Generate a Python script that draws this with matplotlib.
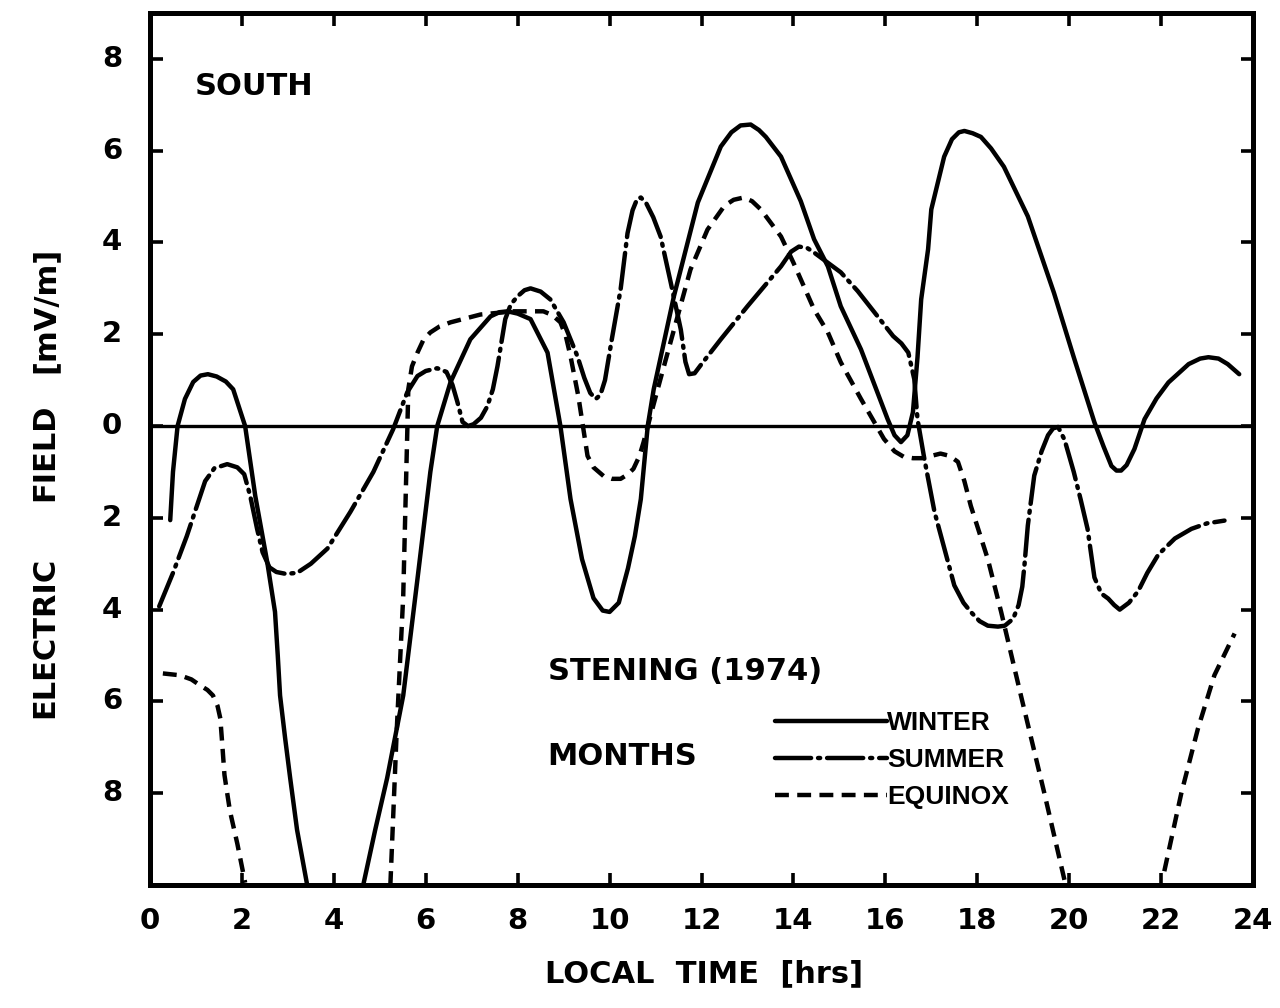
import matplotlib
matplotlib.use("Agg")
import matplotlib.pyplot as plt

# Local time (hrs) and electric field (mV/m).
# Segments are split where a curve leaves the bottom of the frame.
winter_x1 = [0.44, 0.50, 0.60, 0.76, 0.94, 1.10, 1.26, 1.45, 1.65, 1.81, 2.07, 2.29, 2.55, 2.72,
             2.78, 2.83, 2.94, 3.05, 3.20, 3.42]
winter_y1 = [-2.05, -1.0, 0.0, 0.59, 0.96, 1.10, 1.13, 1.08, 0.97, 0.80, 0.0, -1.52, -2.96, -4.05,
             -5.0, -5.87, -6.8, -7.67, -8.8, -10.0]
winter_x2 = [4.64, 4.90, 5.16, 5.51, 5.82, 6.10, 6.25, 6.54, 6.97, 7.41, 7.60, 7.78, 8.00, 8.28,
             8.65, 8.93, 9.15, 9.40, 9.65, 9.85, 10.0, 10.20, 10.40, 10.55, 10.68, 10.83, 10.96,
             11.40, 11.92, 12.42, 12.65, 12.85, 13.07, 13.25, 13.40, 13.73, 14.16, 14.45, 14.75,
             15.03, 15.47, 16.05, 16.20, 16.34, 16.48, 16.60, 16.70, 16.78, 16.93, 17.00, 17.28,
             17.45, 17.60, 17.72, 17.90, 18.08, 18.30, 18.58, 19.10, 19.67, 20.10, 20.55, 20.75,
             20.92, 21.03, 21.13, 21.25, 21.42, 21.64, 21.90, 22.16, 22.60, 22.85, 23.03, 23.25,
             23.45, 23.70]
winter_y2 = [-10.0, -8.8, -7.67, -5.87, -3.33, -1.0, 0.0, 0.96, 1.89, 2.39, 2.48, 2.50, 2.45, 2.33,
             1.60, 0.0, -1.59, -2.9, -3.75, -4.02, -4.05, -3.85, -3.1, -2.4, -1.59, 0.0, 0.80,
             2.83, 4.87, 6.09, 6.40, 6.55, 6.57, 6.45, 6.30, 5.87, 4.90, 4.07, 3.48,
             2.61, 1.67, 0.15, -0.20, -0.35, -0.20, 0.30, 1.50, 2.76, 3.85, 4.72, 5.87,
             6.25, 6.40, 6.43, 6.38, 6.30, 6.05, 5.65, 4.57, 2.90, 1.50, 0.08, -0.45,
             -0.87, -0.97, -0.97, -0.85, -0.50, 0.15, 0.60, 0.95, 1.35, 1.47, 1.50, 1.47,
             1.35, 1.13]

summer_x = [0.20, 0.50, 0.80, 1.00, 1.20, 1.40, 1.68, 1.90, 2.05, 2.18, 2.33, 2.45, 2.60, 2.75,
            2.95, 3.20, 3.50, 3.86, 4.36, 4.86, 5.29, 5.45, 5.60, 5.82, 6.00, 6.25, 6.45, 6.58,
            6.69, 6.80, 6.92, 7.04, 7.20, 7.34, 7.46, 7.56, 7.73, 7.85, 8.00, 8.15, 8.28, 8.50,
            8.71, 9.00, 9.30, 9.45, 9.58, 9.70, 9.80, 9.90, 10.05, 10.24, 10.39, 10.50, 10.60,
            10.68, 10.80, 10.95, 11.11, 11.33, 11.55, 11.65, 11.73, 11.85, 12.00, 12.42, 13.00,
            13.73, 13.95, 14.12, 14.30, 14.45, 15.03, 15.40, 16.17, 16.35, 16.50, 16.63, 16.70,
            16.85, 17.07, 17.50, 17.70, 17.86, 18.05, 18.23, 18.45, 18.60, 18.78, 18.90, 18.98,
            19.03, 19.10, 19.24, 19.40, 19.54, 19.65, 19.76, 19.90, 20.10, 20.25, 20.40, 20.55,
            20.70, 20.85, 20.98, 21.10, 21.30, 21.50, 21.70, 21.94, 22.30, 22.66, 23.00, 23.38]
summer_y = [-3.93, -3.2, -2.4, -1.8, -1.2, -0.92, -0.83, -0.90, -1.05, -1.52, -2.24, -2.75, -3.08,
            -3.18, -3.22, -3.20, -3.0, -2.67, -1.87, -1.0, -0.07, 0.35, 0.74, 1.09, 1.20, 1.26,
            1.18, 0.90, 0.52, 0.09, 0.0, 0.04, 0.18, 0.43, 0.80, 1.30, 2.33, 2.65, 2.83, 2.96,
            3.00, 2.93, 2.76, 2.26, 1.52, 1.05, 0.72, 0.59, 0.68, 1.00, 1.90, 2.98, 4.20, 4.70,
            4.95, 4.98, 4.85, 4.55, 4.13, 3.13, 2.10, 1.40, 1.13, 1.15, 1.35, 1.89, 2.61,
            3.48, 3.80, 3.91, 3.88, 3.78, 3.35, 2.94, 1.96, 1.80, 1.60, 1.02, 0.15,
            -0.72, -1.87, -3.47, -3.85, -4.05, -4.25, -4.35, -4.37, -4.35, -4.20, -3.90, -3.50,
            -3.0, -2.17, -1.08, -0.55, -0.20, -0.05, -0.02, -0.30, -1.0, -1.60, -2.24, -3.30,
            -3.65, -3.76, -3.90, -4.00, -3.85, -3.60, -3.20, -2.80, -2.45, -2.24, -2.12, -2.06]

equinox_x1 = [0.28, 0.65, 0.90, 1.09, 1.25, 1.37, 1.47, 1.53, 1.57, 1.62, 1.68, 1.74, 1.90, 2.07]
equinox_y1 = [-5.39, -5.43, -5.52, -5.65, -5.75, -5.87, -6.10, -6.37, -6.9, -7.6, -8.0, -8.39,
              -9.1, -9.95]
equinox_x2 = [5.23, 5.37, 5.51, 5.60, 5.62, 5.70, 5.82, 5.95, 6.10, 6.30, 6.54, 7.19, 7.91, 8.56,
              8.75, 8.93, 9.05, 9.15, 9.32, 9.42, 9.52, 9.65, 9.87, 10.05, 10.24, 10.40, 10.52,
              10.65, 10.74, 10.89, 11.10, 11.48, 11.76, 12.13, 12.50, 12.70, 12.92, 13.10, 13.29,
              13.73, 14.00, 14.45, 14.75, 15.03, 15.47, 15.97, 16.20, 16.40, 16.60, 16.80, 17.00,
              17.20, 17.40, 17.58, 17.72, 17.86, 18.23, 18.52, 18.95, 19.46, 19.90]
equinox_y2 = [-10.0, -6.6, -3.7, -0.05, 0.80, 1.30, 1.60, 1.88, 2.04, 2.17, 2.26, 2.43, 2.50, 2.50,
              2.42, 2.26, 1.95, 1.52, 0.65, 0.0, -0.65, -0.90, -1.09, -1.15, -1.15, -1.05, -0.93,
              -0.65, -0.35, 0.22, 1.00, 2.39, 3.41, 4.28, 4.80, 4.93, 4.98, 4.90, 4.72,
              4.13, 3.56, 2.54, 2.04, 1.39, 0.59, -0.28, -0.55, -0.67, -0.70, -0.70, -0.65,
              -0.60, -0.65, -0.78, -1.20, -1.74, -2.90, -4.05, -5.87, -8.0, -9.9]
equinox_x3 = [22.07, 22.44, 22.80, 23.16, 23.60]
equinox_y3 = [-9.7, -8.0, -6.6, -5.43, -4.52]

x_ticks = [0, 2, 4, 6, 8, 10, 12, 14, 16, 18, 20, 22, 24]
x_tick_labels = ["0", "2", "4", "6", "8", "10", "12", "14", "16", "18", "20", "22", "24"]
y_ticks = [8, 6, 4, 2, 0, -2, -4, -6, -8]
y_tick_labels = ["8", "6", "4", "2", "0", "2", "4", "6", "8"]

series_labels = ["WINTER", "SUMMER", "EQUINOX"]
y_label_words = ["ELECTRIC", "FIELD", "[mV/m]"]

plt.rcParams["font.family"] = ["DejaVu Sans"]
plt.rcParams["lines.scale_dashes"] = False

W, H = 1280, 1008
fig = plt.figure(figsize=(W / 100, H / 100), dpi=100)
ax = fig.add_axes([150 / W, 1 - 885 / H, (1253 - 150) / W, (885 - 13) / H])

ink = "black"
lw = 3.2
solid_style = dict(color=ink, lw=lw, solid_capstyle="round", solid_joinstyle="round")
summer_style = dict(color=ink, lw=lw, dashes=(26, 5, 1.5, 5), dash_capstyle="round",
                    dash_joinstyle="round")
equinox_style = dict(color=ink, lw=lw, dashes=(10, 6), dash_capstyle="butt",
                     dash_joinstyle="round")

ax.axhline(0, color=ink, lw=2.4, zorder=1)

w1, = ax.plot(winter_x1, winter_y1, **solid_style)
ax.plot(winter_x2, winter_y2, **solid_style)
s1, = ax.plot(summer_x, summer_y, **summer_style)
e1, = ax.plot(equinox_x1, equinox_y1, **equinox_style)
ax.plot(equinox_x2, equinox_y2, **equinox_style)
ax.plot(equinox_x3, equinox_y3, **equinox_style)

ax.set_xlim(0, 24)
ax.set_ylim(-10, 9)
ax.set_xticks(x_ticks[1:-1])
ax.set_xticklabels([])
ax.set_yticks(y_ticks)
ax.set_yticklabels([])
ax.tick_params(direction="in", length=9, width=2.6, top=True, right=True, color=ink)

for sp in ax.spines.values():
    sp.set_linewidth(3.6)
    sp.set_color(ink)

tick_font = dict(fontsize=21, fontweight="bold", color=ink)
for xv, lab in zip(x_ticks, x_tick_labels):
    ax.annotate(lab, xy=(xv, 0), xycoords=("data", "axes fraction"),
                xytext=(0, -16), textcoords="offset points", ha="center", va="top", **tick_font)
for yv, lab in zip(y_ticks, y_tick_labels):
    ax.annotate(lab, xy=(0, yv), xycoords=("axes fraction", "data"),
                xytext=(-20, 0), textcoords="offset points", ha="right", va="center", **tick_font)

label_font = dict(fontsize=22, fontweight="bold", color=ink)
fig.text(704 / W, 1 - 974 / H, "LOCAL  TIME  [hrs]", ha="center", va="center", **label_font)
# y-axis title, word by word with wide spacing
for word, yc in zip(y_label_words, [637, 452, 310]):
    fig.text(45 / W, 1 - yc / H, word, ha="center", va="center", rotation=90, **label_font)

ax.text(0.98, 7.4, "SOUTH", ha="left", va="center", **label_font)
ax.text(8.65, -5.35, "STENING (1974)", ha="left", va="center", **label_font)
ax.text(8.65, -7.2, "MONTHS", ha="left", va="center", **label_font)

leg = ax.legend([w1, s1, e1], series_labels, loc="center left",
                bbox_to_anchor=((775 - 150) / 1103, (885 - 760) / 872),
                frameon=False, handlelength=4.25, handletextpad=0.0, labelspacing=0.5,
                borderpad=0, borderaxespad=0,
                prop=dict(family=["Liberation Sans", "DejaVu Sans"], weight="bold", size=19))
for t in leg.get_texts():
    t.set_color(ink)

fig.savefig("out.png", dpi=100, facecolor="white")
